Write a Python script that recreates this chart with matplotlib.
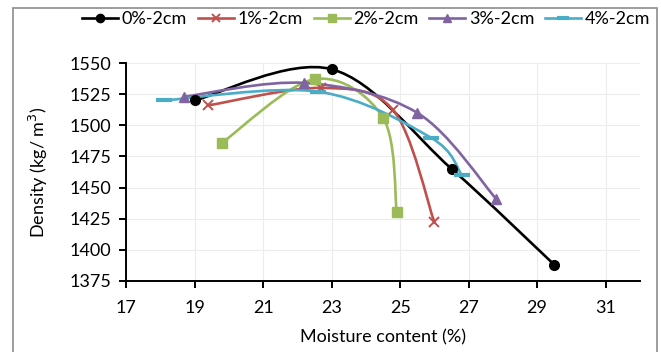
import matplotlib
matplotlib.use("Agg")
import matplotlib.pyplot as plt
from matplotlib.path import Path
from matplotlib.patches import PathPatch, Rectangle
from matplotlib.lines import Line2D

plt.rcParams['font.family'] = ['Lato', 'DejaVu Sans']

# moisture content (%) and dry density (kg/m3) for each mix
labels = ['0%-2cm', '1%-2cm', '2%-2cm', '3%-2cm', '4%-2cm']
mc_0 = [19.0, 23.0, 26.5, 29.5]
rho_0 = [1520, 1545, 1465, 1388]
mc_1 = [19.4, 22.7, 24.8, 26.0]
rho_1 = [1516, 1530, 1512, 1422]
mc_2 = [19.8, 22.5, 24.5, 24.9]
rho_2 = [1486, 1537, 1506, 1430]
mc_3 = [18.7, 22.2, 25.5, 27.8]
rho_3 = [1523, 1534, 1510, 1441]
mc_4 = [18.1, 22.6, 25.9, 26.8]
rho_4 = [1520, 1527, 1490, 1460]

xticks = [17, 19, 21, 23, 25, 27, 29, 31]
yticks = [1375, 1400, 1425, 1450, 1475, 1500, 1525, 1550]

series = [
    (mc_0, rho_0, 'black', 'o', 7, 1.0),
    (mc_1, rho_1, '#c0504d', 'x', 7, 1.4),
    (mc_2, rho_2, '#9bbb59', 's', 7, 1.0),
    (mc_3, rho_3, '#8064a2', '^', 7.5, 1.0),
    (mc_4, rho_4, '#4bacc6', '_', 11, 3.0),
]


def smooth_path(xs, ys):
    # cubic bezier segments through the points (catmull-rom tangents)
    pts = list(zip(xs, ys))
    verts = [pts[0]]
    codes = [Path.MOVETO]
    n = len(pts)
    for i in range(n - 1):
        p0 = pts[max(i - 1, 0)]
        p1 = pts[i]
        p2 = pts[i + 1]
        p3 = pts[min(i + 2, n - 1)]
        c1 = (p1[0] + (p2[0] - p0[0]) / 6, p1[1] + (p2[1] - p0[1]) / 6)
        c2 = (p2[0] - (p3[0] - p1[0]) / 6, p2[1] - (p3[1] - p1[1]) / 6)
        verts += [c1, c2, p2]
        codes += [Path.CURVE4] * 3
    return Path(verts, codes)


fig = plt.figure(figsize=(6.61, 3.52), dpi=100)
ax = fig.add_axes([0.191, 0.202, 0.777, 0.619])

handles = []
for (xs, ys, col, mk, ms, mew), lab in zip(series, labels):
    ax.add_patch(PathPatch(smooth_path(xs, ys), facecolor='none',
                           edgecolor=col, linewidth=1.9, capstyle='round'))
    ax.plot(xs, ys, linestyle='none', marker=mk, markersize=ms, color=col,
            markeredgewidth=mew)
    handles.append(Line2D([], [], color=col, linewidth=1.9, marker=mk,
                          markersize=ms * 0.85, markeredgewidth=mew,
                          label=lab))

ax.set_xlim(17, 32)
ax.set_ylim(1375, 1550)
ax.set_xticks(xticks)
ax.set_yticks(yticks)
ax.grid(True, color='#ececec', linewidth=0.8)
ax.set_axisbelow(True)
for s in ['top', 'right']:
    ax.spines[s].set_visible(False)
for s in ['left', 'bottom']:
    ax.spines[s].set_linewidth(1.4)
ax.tick_params(direction='out', length=5, width=1.4, labelsize=13)
ax.tick_params(axis='x', pad=9)
ax.tick_params(axis='y', pad=6)

ax.set_xlabel('Moisture content (%)', fontsize=13, labelpad=9)
ax.set_ylabel('Density (kg/ m$^3$)', fontsize=13, labelpad=14)

fig.legend(handles=handles, loc='center', bbox_to_anchor=(0.554, 0.946),
           ncol=5, frameon=False, fontsize=13, handlelength=2.0,
           handletextpad=0.2, columnspacing=0.6)

# outer chart border
fig.patches.append(Rectangle((13 / 661, -0.05), 644 / 661, 1.05 - 8 / 352,
                             transform=fig.transFigure, fill=False,
                             edgecolor='#8c8c8c', linewidth=1.2))

fig.savefig('out.png', dpi=100)
